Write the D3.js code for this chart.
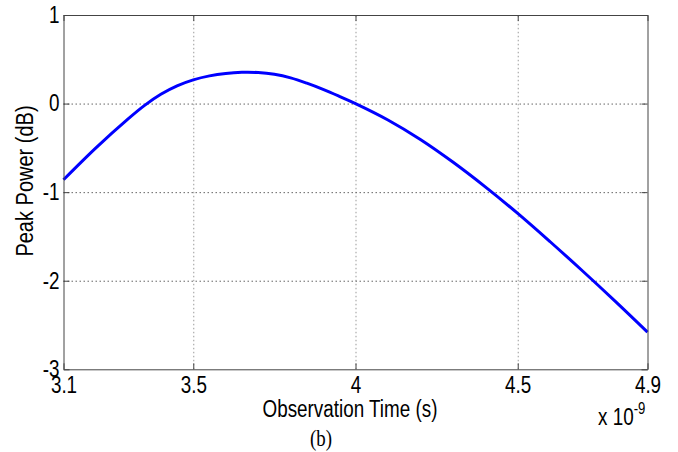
<!DOCTYPE html>
<html>
<head>
<meta charset="utf-8">
<script src="https://cdn.jsdelivr.net/npm/d3@7"></script>
<style>
  body { margin: 0; background: #fff; }
  svg { display: block; }
  .tick text { font-family: "Liberation Sans", Arial, sans-serif; font-size: 23px; fill: #000; }
  .lbl { font-family: "Liberation Sans", Arial, sans-serif; fill: #000; }
</style>
</head>
<body>
<div id="chart"></div>
<script>
// observation time (x 1e-9 s) and peak power (dB)
const times = [3.1, 3.2, 3.3, 3.35, 3.4, 3.45, 3.5, 3.55, 3.6, 3.65, 3.7, 3.75, 3.8, 3.85, 3.9, 3.95, 4.0, 4.1, 4.2, 4.3, 4.4, 4.5, 4.6, 4.7, 4.8, 4.9];
const power = [-0.86, -0.50, -0.17, -0.02, 0.105, 0.20, 0.2675, 0.3125, 0.34, 0.3525, 0.35, 0.33, 0.29, 0.23, 0.16, 0.082, 0.0, -0.185, -0.405, -0.66, -0.94, -1.24, -1.56, -1.89, -2.23, -2.58];
const xTicks = [3.1, 3.5, 4, 4.5, 4.9];
const yTicks = [-3, -2, -1, 0, 1];

let width = 678,
    height = 452,
    margin = ({ top: 15, right: 30.5, bottom: 82.7, left: 63.5 }),
    innerWidth = width - margin.left - margin.right,
    innerHeight = height - margin.top - margin.bottom,
    squeeze = 0.82; // the original lettering is narrow

const svg = d3.select("#chart")
  .append("svg")
  .attr("width", width)
  .attr("height", height);

let x = d3.scaleLinear()
  .domain([3.1, 4.9])
  .range([margin.left, width - margin.right]);

let y = d3.scaleLinear()
  .domain([-3, 1])
  .range([height - margin.bottom, margin.top]);

let data = times.map((t, i) => ({ t: t, p: power[i] }));

// dotted grid
svg.append("g")
  .attr("transform", `translate(0,${height - margin.bottom})`)
  .call(d3.axisBottom(x).tickValues([3.5, 4, 4.5]).tickSize(-innerHeight).tickFormat(""))
  .call(g => g.select(".domain").remove())
  .call(g => g.selectAll("line").attr("stroke", "#999").attr("stroke-dasharray", "1.5,2.5"));

svg.append("g")
  .attr("transform", `translate(${margin.left},0)`)
  .call(d3.axisLeft(y).tickValues([-2, -1, 0]).tickSize(-innerWidth).tickFormat(""))
  .call(g => g.select(".domain").remove())
  .call(g => g.selectAll("line").attr("stroke", "#666").attr("stroke-dasharray", "1.5,2.5"));

// curve
svg.append("path")
  .datum(data)
  .attr("fill", "none")
  .attr("stroke", "#0000ff")
  .attr("stroke-width", 3)
  .attr("d", d3.line().x(d => x(d.t)).y(d => y(d.p)).curve(d3.curveCatmullRom));

// box axes, ticks inward
let bottom = svg.append("g")
  .attr("transform", `translate(0,${height - margin.bottom})`)
  .call(d3.axisBottom(x).tickValues(xTicks).tickSizeInner(-6).tickSizeOuter(0).tickPadding(7.4).tickFormat(d => d));

let left = svg.append("g")
  .attr("transform", `translate(${margin.left},0)`)
  .call(d3.axisLeft(y).tickValues(yTicks).tickSizeInner(-6).tickSizeOuter(0).tickPadding(5).tickFormat(d => d));

svg.append("g")
  .attr("transform", `translate(0,${margin.top})`)
  .call(d3.axisTop(x).tickValues(xTicks).tickSizeInner(-6).tickSizeOuter(0).tickFormat(""));

svg.append("g")
  .attr("transform", `translate(${width - margin.right},0)`)
  .call(d3.axisRight(y).tickValues(yTicks).tickSizeInner(-6).tickSizeOuter(0).tickFormat(""));

bottom.selectAll("text").attr("transform", `scale(${squeeze},1)`);
left.selectAll("text").attr("transform", `scale(${squeeze},1)`);

svg.selectAll(".domain").attr("stroke", "#444");
svg.selectAll(".tick line").filter(function() { return !this.getAttribute("stroke-dasharray"); }).attr("stroke", "#444");

// labels
svg.append("text")
  .attr("class", "lbl")
  .attr("font-size", 23)
  .attr("transform", `translate(350,416.5) scale(${squeeze},1)`)
  .attr("text-anchor", "middle")
  .text("Observation Time (s)");

svg.append("text")
  .attr("class", "lbl")
  .attr("font-size", 23)
  .attr("transform", "translate(33,181) rotate(-90) scale(0.87,1)")
  .attr("text-anchor", "middle")
  .text("Peak Power (dB)");

let exp = svg.append("text")
  .attr("class", "lbl")
  .attr("font-size", 23)
  .attr("transform", `translate(598,425) scale(${squeeze},1)`);
exp.append("tspan").text("x 10");
exp.append("tspan").attr("font-size", 16).attr("dy", -11).text("-9");

svg.append("text")
  .attr("transform", `translate(321,446) scale(${squeeze},1)`)
  .attr("text-anchor", "middle")
  .attr("font-family", "Liberation Serif, Times New Roman, serif")
  .attr("font-size", 23)
  .text("(b)");
</script>
</body>
</html>
